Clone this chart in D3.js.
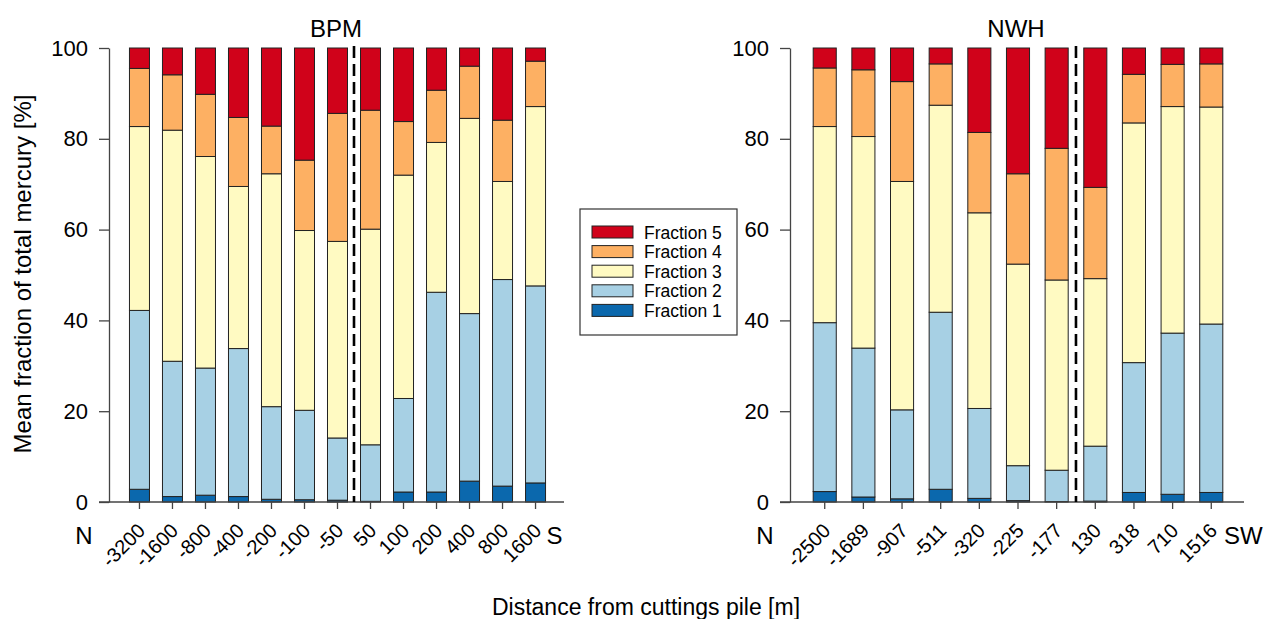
<!DOCTYPE html>
<html>
<head>
  <meta charset="utf-8">
  <script src="https://d3js.org/d3.v7.min.js"></script>
  <style>
    body { margin: 0; background: #fff; }
    text { font-family: "Liberation Sans", Arial, sans-serif; fill: #000; }
  </style>
</head>
<body>
<script>
  "use strict";

  // Series names and colours (bottom to top)
  var fractionNames = ["Fraction 1", "Fraction 2", "Fraction 3", "Fraction 4", "Fraction 5"];
  var fractionColors = ["#0b68ad", "#a7d0e4", "#fffac2", "#fdb063", "#d0021a"];
  var yTicks = [0, 20, 40, 60, 80, 100];

  // BPM transect
  var bpmDistances = ["-3200", "-1600", "-800", "-400", "-200", "-100", "-50", "50", "100", "200", "400", "800", "1600"];
  var bpmF1 = [2.8, 1.2, 1.5, 1.2, 0.6, 0.5, 0.4, 0.15, 2.2, 2.2, 4.6, 3.5, 4.2];
  var bpmF2 = [39.4, 29.8, 28.0, 32.6, 20.4, 19.7, 13.7, 12.45, 20.6, 44.0, 36.9, 45.5, 43.4];
  var bpmF3 = [40.5, 50.9, 46.6, 35.7, 51.3, 39.6, 43.3, 47.5, 49.2, 33.0, 43.0, 21.6, 39.5];
  var bpmF4 = [12.8, 12.2, 13.7, 15.2, 10.5, 15.5, 28.2, 26.2, 11.8, 11.5, 11.5, 13.5, 10.0];
  var bpmF5 = [4.5, 5.9, 10.2, 15.3, 17.2, 24.7, 14.4, 13.7, 16.2, 9.3, 4.0, 15.9, 2.9];

  // NWH transect
  var nwhDistances = ["-2500", "-1689", "-907", "-511", "-320", "-225", "-177", "130", "318", "710", "1516"];
  var nwhF1 = [2.3, 1.1, 0.7, 2.8, 0.8, 0.3, 0.1, 0.2, 2.1, 1.7, 2.1];
  var nwhF2 = [37.2, 32.8, 19.6, 39.0, 19.8, 7.7, 6.9, 12.1, 28.6, 35.5, 37.1];
  var nwhF3 = [43.2, 46.6, 50.3, 45.6, 43.1, 44.4, 41.9, 36.9, 52.8, 49.9, 47.8];
  var nwhF4 = [12.9, 14.7, 22.0, 9.1, 17.7, 19.9, 29.0, 20.1, 10.7, 9.3, 9.5];
  var nwhF5 = [4.4, 4.8, 7.4, 3.5, 18.6, 27.7, 22.1, 30.7, 5.8, 3.6, 3.5];

  var width = 1264, height = 619;
  var plotTop = 48, plotBottom = 502;

  var svg = d3.select("body").append("svg")
      .attr("width", width)
      .attr("height", height);

  var y = d3.scaleLinear().domain([0, 100]).range([plotBottom, plotTop]);

  function drawPanel(opts) {
    var rows = opts.cats.map(function (c, i) {
      var r = { cat: c };
      opts.series.forEach(function (s, k) { r[fractionNames[k]] = s[i]; });
      return r;
    });
    var stacked = d3.stack().keys(fractionNames)(rows);

    var x = d3.scaleBand()
        .domain(opts.cats)
        .range([opts.x0, opts.x1])
        .paddingInner(opts.pi)
        .paddingOuter(opts.po);

    var g = svg.append("g");

    // bars
    g.selectAll("g.layer")
      .data(stacked)
      .enter().append("g")
        .attr("class", "layer")
        .attr("fill", function (d, i) { return fractionColors[i]; })
      .selectAll("rect")
      .data(function (d) { return d; })
      .enter().append("rect")
        .attr("x", function (d) { return x(d.data.cat); })
        .attr("y", function (d) { return y(d[1]); })
        .attr("width", x.bandwidth())
        .attr("height", function (d) { return y(d[0]) - y(d[1]); })
        .attr("stroke", "#222")
        .attr("stroke-width", 1);

    // y axis
    var yAxis = g.append("g")
        .attr("transform", "translate(" + opts.x0 + ",0)")
        .call(d3.axisLeft(y).tickValues(yTicks).tickSize(10).tickSizeOuter(0).tickPadding(11));
    yAxis.selectAll("path, line").attr("stroke", "#444").attr("stroke-width", 1.3);
    yAxis.selectAll("text").style("font-size", "22px").attr("fill", "#000");

    // x axis
    var xAxis = g.append("g")
        .attr("transform", "translate(0," + plotBottom + ")")
        .call(d3.axisBottom(x).tickSize(7).tickSizeOuter(0));
    xAxis.select(".domain").remove();
    xAxis.append("line")
        .attr("x1", opts.x0 - 10).attr("x2", opts.x1 - 2)
        .attr("stroke", "#444").attr("stroke-width", 1.3);
    xAxis.selectAll("line").attr("stroke", "#444").attr("stroke-width", 1.3);
    xAxis.selectAll(".tick text")
        .style("font-size", "20px")
        .attr("fill", "#000")
        .attr("text-anchor", "end")
        .attr("dy", null)
        .attr("y", null)
        .attr("transform", "translate(7,30) rotate(-45)");

    // dashed divider between the two sides of the pile
    var cats = opts.cats;
    var xd = (x(cats[opts.split - 1]) + x(cats[opts.split]) + x.bandwidth()) / 2;
    g.append("line")
        .attr("x1", xd).attr("x2", xd)
        .attr("y1", plotTop - 2).attr("y2", plotBottom)
        .attr("stroke", "#000")
        .attr("stroke-width", 2.6)
        .attr("stroke-dasharray", "12,6");

    // direction letters
    var last = x(cats[cats.length - 1]) + x.bandwidth() / 2;
    g.append("text")
        .attr("x", opts.x0 - 25).attr("y", 544)
        .attr("text-anchor", "middle")
        .style("font-size", "24px")
        .text(opts.left);
    g.append("text")
        .attr("x", last + x.bandwidth() * 0.55).attr("y", 544)
        .attr("text-anchor", "start")
        .style("font-size", "24px")
        .text(opts.right);

    // panel title
    g.append("text")
        .attr("x", opts.titleX).attr("y", 37)
        .attr("text-anchor", "middle")
        .style("font-size", "24px")
        .text(opts.title);
  }

  drawPanel({
    cats: bpmDistances,
    series: [bpmF1, bpmF2, bpmF3, bpmF4, bpmF5],
    x0: 109, x1: 566, pi: 0.394, po: 0.62,
    split: 7, left: "N", right: "S",
    title: "BPM", titleX: 336
  });

  drawPanel({
    cats: nwhDistances,
    series: [nwhF1, nwhF2, nwhF3, nwhF4, nwhF5],
    x0: 790, x1: 1246, pi: 0.403, po: 0.6,
    split: 7, left: "N", right: "SW",
    title: "NWH", titleX: 1016
  });

  // shared axis titles
  svg.append("text")
      .attr("transform", "translate(31,274) rotate(-90)")
      .attr("text-anchor", "middle")
      .style("font-size", "24px")
      .text("Mean fraction of total mercury [%]");

  svg.append("text")
      .attr("x", 646).attr("y", 615)
      .attr("text-anchor", "middle")
      .style("font-size", "23px")
      .text("Distance from cuttings pile [m]");

  // legend, top entry is Fraction 5
  var legend = svg.append("g").attr("transform", "translate(580,209)");
  legend.append("rect")
      .attr("width", 157).attr("height", 126)
      .attr("fill", "#fff").attr("stroke", "#333").attr("stroke-width", 1.2);
  var items = legend.selectAll("g.item")
      .data(fractionNames.slice().reverse())
      .enter().append("g")
        .attr("class", "item")
        .attr("transform", function (d, i) { return "translate(12," + (17 + i * 19.6) + ")"; });
  items.append("rect")
      .attr("width", 41).attr("height", 12)
      .attr("fill", function (d) { return fractionColors[fractionNames.indexOf(d)]; })
      .attr("stroke", "#222").attr("stroke-width", 1);
  items.append("text")
      .attr("x", 52).attr("y", 12.5)
      .style("font-size", "17.5px")
      .text(function (d) { return d; });
</script>
</body>
</html>
